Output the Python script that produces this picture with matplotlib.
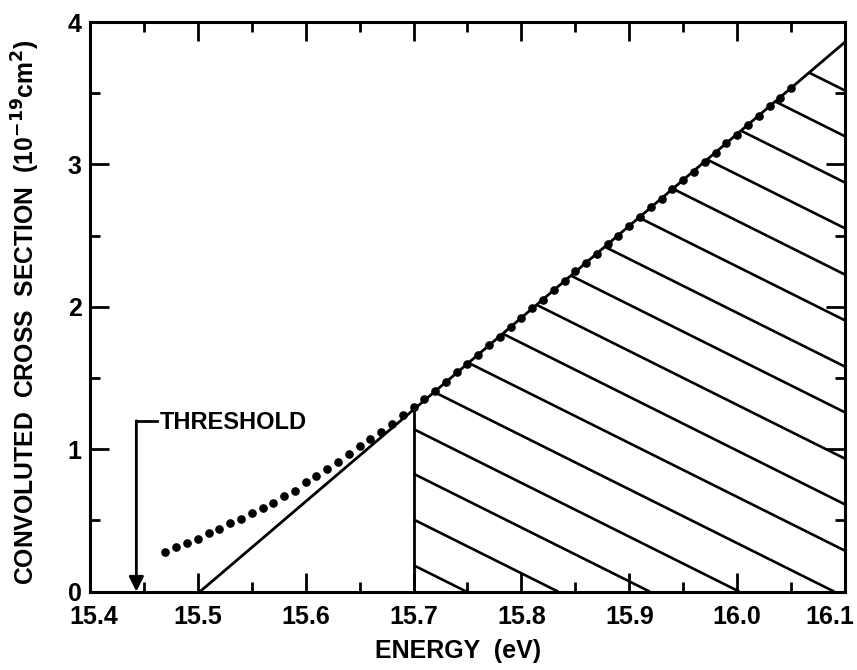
import matplotlib
matplotlib.use("Agg")
import matplotlib.pyplot as plt
from matplotlib.patches import Polygon
import matplotlib.transforms as mtransforms

plt.rcParams['font.family'] = ['Liberation Sans', 'DejaVu Sans']
plt.rcParams['font.weight'] = 'bold'
plt.rcParams['axes.labelweight'] = 'bold'
plt.rcParams['mathtext.default'] = 'bf'

# ---------------- data ----------------
dot_energy = [15.47, 15.48, 15.49, 15.50, 15.51, 15.52, 15.53, 15.54, 15.55, 15.56,
              15.57, 15.58, 15.59, 15.60, 15.61, 15.62, 15.63, 15.64, 15.65, 15.66,
              15.67, 15.68, 15.69, 15.70, 15.71, 15.72, 15.73, 15.74, 15.75, 15.76,
              15.77, 15.78, 15.79, 15.80, 15.81, 15.82, 15.83, 15.84, 15.85, 15.86,
              15.87, 15.88, 15.89, 15.90, 15.91, 15.92, 15.93, 15.94, 15.95, 15.96,
              15.97, 15.98, 15.99, 16.00, 16.01, 16.02, 16.03, 16.04, 16.05]
dot_sigma = [0.28, 0.31, 0.34, 0.37, 0.41, 0.44, 0.48, 0.51, 0.55, 0.59,
             0.62, 0.67, 0.71, 0.77, 0.81, 0.86, 0.91, 0.97, 1.02, 1.07,
             1.12, 1.18, 1.24, 1.30, 1.35, 1.41, 1.47, 1.54, 1.60, 1.66,
             1.73, 1.79, 1.86, 1.92, 1.99, 2.05, 2.12, 2.18, 2.25, 2.31,
             2.37, 2.44, 2.50, 2.57, 2.63, 2.70, 2.76, 2.83, 2.89, 2.95,
             3.02, 3.08, 3.15, 3.21, 3.28, 3.34, 3.41, 3.47, 3.54]

line_energy = [15.502, 16.10]
line_sigma = [0.0, 3.86]

cut_energy = 15.70
cut_sigma = 1.28

hatch_zero_energy = [15.749, 15.834, 15.919, 16.002, 16.090, 16.176, 16.262, 16.347,
                     16.433, 16.518, 16.604, 16.689, 16.775, 16.860, 16.946, 17.031,
                     17.117, 17.202]
hatch_slope = 3.78

threshold_energy = 15.443
threshold_top = 1.20

x_ticks = [15.4, 15.5, 15.6, 15.7, 15.8, 15.9, 16.0, 16.1]
x_tick_labels = ['15.4', '15.5', '15.6', '15.7', '15.8', '15.9', '16.0', '16.1']
y_ticks = [0, 1, 2, 3, 4]
y_tick_labels = ['0', '1', '2', '3', '4']

# ---------------- figure ----------------
fig = plt.figure(figsize=(8.57, 6.70), dpi=100)
ax = fig.add_axes([0.105, 0.117, 0.881, 0.850])
ax.set_xlim(15.4, 16.1)
ax.set_ylim(0, 4)

lw = 2.2
for s in ax.spines.values():
    s.set_linewidth(lw)

ax.set_xticks(x_ticks)
ax.set_xticklabels(x_tick_labels)
ax.set_yticks(y_ticks)
ax.set_yticklabels(y_tick_labels)
ax.set_xticks([15.45, 15.55, 15.65, 15.75, 15.85, 15.95, 16.05], minor=True)
ax.set_yticks([0.5, 1.5, 2.5, 3.5], minor=True)
ax.tick_params(which='both', direction='in', top=True, right=True, width=2.0)
ax.tick_params(which='major', length=13.5, labelsize=18)
ax.tick_params(which='minor', length=7.5)
ax.tick_params(axis='x', which='major', pad=10)
ax.tick_params(axis='y', which='major', pad=6)

# keep the last x label inside the figure, and nudge the first one right of the "0"
labels = ax.get_xticklabels()
labels[-1].set_transform(labels[-1].get_transform() +
                         mtransforms.ScaledTranslation(-11 / 72, 0, fig.dpi_scale_trans))
labels[0].set_transform(labels[0].get_transform() +
                        mtransforms.ScaledTranslation(3 / 72, 0, fig.dpi_scale_trans))

# hatched region
region = Polygon([(cut_energy, 0), (line_energy[1], 0), (line_energy[1], line_sigma[1]),
                  (cut_energy, cut_sigma)], closed=True, fill=False, edgecolor='none')
ax.add_patch(region)
for x0 in hatch_zero_energy:
    ln, = ax.plot([cut_energy, x0], [hatch_slope * (x0 - cut_energy), 0],
                  color='black', lw=1.9, solid_capstyle='butt')
    ln.set_clip_path(region)

# straight line and vertical cut
ax.plot(line_energy, line_sigma, color='black', lw=2.0)
ax.plot([cut_energy, cut_energy], [0, cut_sigma], color='black', lw=2.0)

# dotted data
ax.plot(dot_energy, dot_sigma, 'o', color='black', markersize=5.2, clip_on=False)

# threshold marker
ax.annotate('', xy=(threshold_energy, 0), xytext=(threshold_energy, threshold_top),
            arrowprops=dict(arrowstyle='-|>', lw=2.0, color='black', mutation_scale=22,
                            shrinkA=0, shrinkB=0))
ax.plot([threshold_energy, 15.462], [threshold_top, threshold_top], color='black', lw=2.0)
ax.text(15.465, threshold_top - 0.01, 'THRESHOLD', fontsize=17, va='center', ha='left')

ax.set_xlabel('ENERGY  (eV)', fontsize=18)
ax.xaxis.set_label_coords(0.488, -0.083)
ax.set_ylabel('CONVOLUTED  CROSS  SECTION  (10$^{-19}$cm$^{2}$)', fontsize=17.8)
ax.yaxis.set_label_coords(-0.064, 0.49)

fig.savefig('out.png', dpi=100)
